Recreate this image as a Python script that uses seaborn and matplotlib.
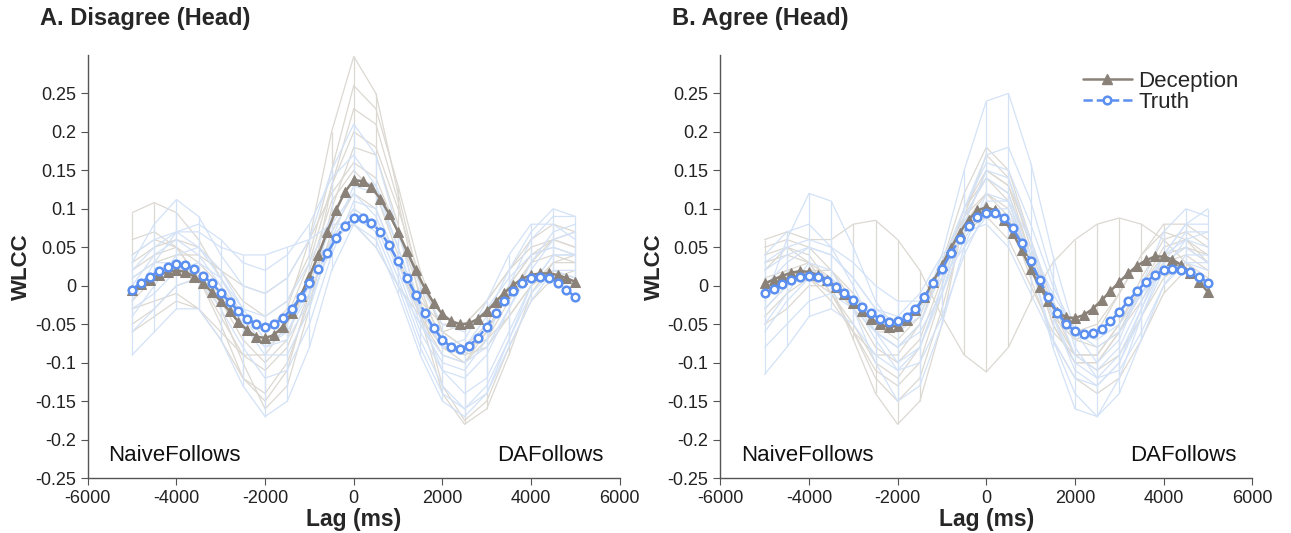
import numpy as np
import pandas as pd
import matplotlib
matplotlib.use("Agg")
import matplotlib.pyplot as plt
from matplotlib.lines import Line2D
import seaborn as sns

sns.set_style("ticks")
plt.rcParams['font.family'] = ['Liberation Sans', 'DejaVu Sans']
plt.rcParams['axes.unicode_minus'] = False

# lag grids (ms)
lags = np.arange(-5000, 5001, 200)      # group means
lags_sub = np.arange(-5000, 5001, 500)  # individual dyads

# ---- A. Disagree (Head): group means ----
dis_dec_mean = [-0.005, 0.002, 0.008, 0.014, 0.018, 0.020, 0.018, 0.012, 0.003, -0.008,
                -0.020, -0.033, -0.047, -0.058, -0.066, -0.068, -0.064, -0.053, -0.036, -0.013,
                0.012, 0.040, 0.070, 0.098, 0.122, 0.137, 0.136, 0.128, 0.113, 0.093,
                0.070, 0.045, 0.020, -0.003, -0.022, -0.037, -0.046, -0.050, -0.049, -0.043,
                -0.033, -0.021, -0.009, 0.001, 0.009, 0.014, 0.016, 0.016, 0.014, 0.010, 0.005]
dis_tru_mean = [-0.005, 0.004, 0.012, 0.019, 0.025, 0.028, 0.027, 0.022, 0.013, 0.003,
                -0.009, -0.021, -0.033, -0.043, -0.050, -0.053, -0.050, -0.042, -0.030, -0.015,
                0.003, 0.022, 0.042, 0.062, 0.078, 0.088, 0.088, 0.082, 0.070, 0.053,
                0.032, 0.010, -0.012, -0.035, -0.055, -0.070, -0.080, -0.082, -0.078, -0.068,
                -0.053, -0.036, -0.020, -0.007, 0.003, 0.010, 0.012, 0.010, 0.004, -0.005, -0.015]

# ---- B. Agree (Head): group means ----
agr_dec_mean = [0.003, 0.008, 0.013, 0.017, 0.019, 0.018, 0.014, 0.008, -0.001, -0.011,
                -0.022, -0.033, -0.043, -0.050, -0.054, -0.052, -0.045, -0.032, -0.015, 0.005,
                0.027, 0.049, 0.069, 0.086, 0.098, 0.102, 0.098, 0.086, 0.068, 0.046,
                0.022, -0.001, -0.020, -0.034, -0.041, -0.042, -0.038, -0.030, -0.019, -0.007,
                0.005, 0.016, 0.026, 0.033, 0.038, 0.038, 0.034, 0.027, 0.017, 0.005, -0.008]
agr_tru_mean = [-0.010, -0.004, 0.002, 0.008, 0.012, 0.013, 0.011, 0.006, -0.001, -0.009,
                -0.018, -0.027, -0.036, -0.043, -0.047, -0.046, -0.041, -0.030, -0.015, 0.003,
                0.022, 0.042, 0.061, 0.077, 0.089, 0.095, 0.095, 0.088, 0.075, 0.055,
                0.032, 0.008, -0.015, -0.035, -0.050, -0.059, -0.063, -0.062, -0.056, -0.046,
                -0.034, -0.020, -0.007, 0.005, 0.014, 0.020, 0.022, 0.021, 0.018, 0.012, 0.004]

# ---- individual dyads (values at lags_sub) ----
dis_dec_subj = [
    [0.095, 0.108, 0.095, 0.060, 0.010, -0.040, -0.060, -0.030, 0.060, 0.200, 0.298, 0.250, 0.120, 0.000, -0.080, -0.100, -0.060, 0.000, 0.040, 0.050, 0.040],
    [0.040, 0.060, 0.050, 0.010, -0.050, -0.120, -0.150, -0.110, -0.010, 0.130, 0.230, 0.210, 0.110, -0.020, -0.130, -0.175, -0.150, -0.080, -0.020, 0.010, 0.020],
    [-0.020, 0.010, 0.030, 0.020, -0.030, -0.100, -0.160, -0.130, -0.030, 0.100, 0.180, 0.170, 0.080, -0.040, -0.140, -0.180, -0.160, -0.090, -0.010, 0.030, 0.030],
    [0.020, 0.040, 0.050, 0.030, 0.000, -0.040, -0.060, -0.040, 0.030, 0.130, 0.200, 0.180, 0.100, 0.010, -0.060, -0.080, -0.050, 0.000, 0.040, 0.060, 0.050],
    [-0.050, -0.030, 0.000, 0.010, -0.020, -0.070, -0.100, -0.070, 0.020, 0.110, 0.150, 0.120, 0.040, -0.040, -0.090, -0.100, -0.070, -0.020, 0.030, 0.060, 0.070],
    [0.060, 0.070, 0.050, 0.010, -0.040, -0.090, -0.110, -0.080, -0.010, 0.060, 0.100, 0.080, 0.030, -0.020, -0.050, -0.050, -0.020, 0.020, 0.050, 0.060, 0.050],
    [-0.030, -0.020, -0.010, -0.030, -0.070, -0.120, -0.140, -0.100, -0.020, 0.070, 0.120, 0.100, 0.030, -0.040, -0.080, -0.090, -0.060, -0.010, 0.030, 0.040, 0.030],
    [0.010, 0.030, 0.040, 0.040, 0.020, 0.000, -0.010, 0.010, 0.060, 0.120, 0.160, 0.140, 0.070, -0.010, -0.070, -0.090, -0.080, -0.040, 0.000, 0.030, 0.040],
    [-0.060, -0.040, -0.020, -0.030, -0.060, -0.090, -0.090, -0.050, 0.010, 0.060, 0.080, 0.050, 0.000, -0.040, -0.060, -0.050, -0.020, 0.020, 0.060, 0.080, 0.070],
    [0.030, 0.050, 0.060, 0.050, 0.020, -0.020, -0.040, -0.020, 0.040, 0.150, 0.260, 0.230, 0.130, 0.020, -0.060, -0.080, -0.070, -0.040, 0.000, 0.020, 0.010],
]
dis_tru_subj = [
    [0.030, 0.080, 0.112, 0.090, 0.040, 0.000, -0.010, 0.010, 0.060, 0.150, 0.210, 0.170, 0.070, -0.030, -0.080, -0.070, -0.020, 0.040, 0.080, 0.080, 0.060],
    [-0.020, 0.030, 0.070, 0.080, 0.060, 0.030, 0.020, 0.040, 0.080, 0.140, 0.170, 0.130, 0.050, -0.040, -0.110, -0.140, -0.120, -0.060, 0.000, 0.040, 0.040],
    [-0.090, -0.060, -0.030, -0.030, -0.070, -0.130, -0.170, -0.150, -0.080, 0.020, 0.080, 0.060, -0.010, -0.090, -0.150, -0.170, -0.140, -0.070, 0.000, 0.040, 0.040],
    [0.000, 0.040, 0.060, 0.040, 0.000, -0.050, -0.080, -0.060, 0.000, 0.080, 0.120, 0.090, 0.020, -0.060, -0.110, -0.120, -0.090, -0.030, 0.030, 0.070, 0.080],
    [0.020, 0.050, 0.070, 0.070, 0.050, 0.040, 0.040, 0.050, 0.060, 0.080, 0.080, 0.050, 0.000, -0.050, -0.090, -0.100, -0.080, -0.030, 0.020, 0.060, 0.070],
    [-0.040, 0.000, 0.040, 0.050, 0.020, -0.030, -0.070, -0.060, -0.010, 0.060, 0.100, 0.080, 0.010, -0.070, -0.130, -0.160, -0.140, -0.080, -0.020, 0.020, 0.020],
    [0.010, 0.030, 0.030, 0.010, -0.030, -0.080, -0.120, -0.110, -0.050, 0.040, 0.110, 0.100, 0.030, -0.050, -0.100, -0.110, -0.070, 0.000, 0.060, 0.090, 0.090],
    [-0.060, -0.030, 0.000, 0.010, -0.010, -0.050, -0.090, -0.090, -0.030, 0.060, 0.130, 0.120, 0.050, -0.030, -0.080, -0.080, -0.040, 0.020, 0.070, 0.100, 0.090],
    [0.040, 0.060, 0.070, 0.050, 0.010, -0.030, -0.040, -0.020, 0.030, 0.090, 0.140, 0.130, 0.070, 0.000, -0.050, -0.060, -0.030, 0.010, 0.040, 0.050, 0.040],
    [-0.030, -0.010, 0.020, 0.030, 0.010, -0.040, -0.080, -0.070, -0.020, 0.050, 0.090, 0.070, 0.000, -0.080, -0.140, -0.160, -0.130, -0.070, -0.010, 0.020, 0.010],
]
agr_dec_subj = [
    [0.060, 0.070, 0.060, 0.060, 0.080, 0.085, 0.060, 0.020, -0.040, -0.090, -0.112, -0.080, -0.020, 0.030, 0.060, 0.080, 0.088, 0.080, 0.060, 0.030, 0.000],
    [0.020, 0.050, 0.040, 0.000, -0.070, -0.140, -0.180, -0.150, -0.050, 0.090, 0.170, 0.140, 0.050, -0.040, -0.090, -0.090, -0.050, 0.010, 0.060, 0.070, 0.050],
    [-0.040, -0.010, 0.010, -0.010, -0.060, -0.120, -0.150, -0.120, -0.030, 0.080, 0.150, 0.130, 0.040, -0.050, -0.100, -0.100, -0.060, 0.000, 0.050, 0.060, 0.040],
    [0.050, 0.060, 0.050, 0.020, -0.020, -0.060, -0.080, -0.050, 0.030, 0.120, 0.180, 0.150, 0.060, -0.030, -0.090, -0.110, -0.090, -0.040, 0.010, 0.030, 0.010],
    [0.000, 0.020, 0.030, 0.010, -0.030, -0.080, -0.100, -0.070, 0.010, 0.100, 0.140, 0.110, 0.030, -0.040, -0.070, -0.060, -0.010, 0.040, 0.080, 0.080, 0.060],
    [-0.030, 0.000, 0.020, 0.020, -0.010, -0.050, -0.070, -0.040, 0.030, 0.090, 0.120, 0.090, 0.010, -0.070, -0.120, -0.140, -0.120, -0.070, -0.010, 0.020, 0.000],
    [0.030, 0.040, 0.030, -0.010, -0.060, -0.110, -0.130, -0.100, -0.010, 0.080, 0.120, 0.100, 0.030, -0.030, -0.060, -0.050, -0.010, 0.040, 0.070, 0.060, 0.030],
    [-0.050, -0.030, 0.000, 0.000, -0.030, -0.060, -0.060, -0.030, 0.030, 0.100, 0.150, 0.130, 0.060, -0.020, -0.070, -0.080, -0.060, -0.020, 0.030, 0.050, 0.040],
    [0.010, 0.020, 0.010, -0.020, -0.060, -0.090, -0.090, -0.050, 0.020, 0.070, 0.090, 0.060, 0.000, -0.060, -0.090, -0.090, -0.050, 0.000, 0.040, 0.050, 0.030],
    [0.040, 0.050, 0.030, -0.010, -0.050, -0.100, -0.120, -0.080, 0.000, 0.090, 0.140, 0.120, 0.040, -0.050, -0.100, -0.100, -0.060, -0.010, 0.030, 0.040, 0.020],
]
agr_tru_subj = [
    [-0.020, 0.060, 0.120, 0.110, 0.050, -0.020, -0.060, -0.040, 0.040, 0.150, 0.240, 0.250, 0.160, 0.040, -0.060, -0.100, -0.070, 0.000, 0.070, 0.100, 0.090],
    [-0.115, -0.080, -0.040, -0.030, -0.050, -0.090, -0.110, -0.080, 0.000, 0.090, 0.140, 0.120, 0.030, -0.080, -0.160, -0.170, -0.120, -0.040, 0.030, 0.070, 0.070],
    [0.040, 0.070, 0.080, 0.050, 0.000, -0.060, -0.100, -0.080, -0.010, 0.080, 0.150, 0.140, 0.060, -0.040, -0.110, -0.130, -0.100, -0.030, 0.040, 0.080, 0.080],
    [-0.050, -0.010, 0.030, 0.020, -0.030, -0.100, -0.150, -0.130, -0.050, 0.050, 0.120, 0.110, 0.030, -0.070, -0.140, -0.170, -0.140, -0.070, 0.000, 0.040, 0.040],
    [0.020, 0.040, 0.050, 0.040, 0.010, -0.030, -0.050, -0.030, 0.030, 0.100, 0.160, 0.150, 0.080, 0.000, -0.060, -0.080, -0.060, -0.010, 0.040, 0.060, 0.050],
    [-0.080, -0.050, -0.020, -0.010, -0.030, -0.060, -0.080, -0.050, 0.020, 0.100, 0.170, 0.180, 0.110, 0.010, -0.080, -0.120, -0.110, -0.060, 0.000, 0.030, 0.030],
    [0.000, 0.030, 0.050, 0.040, 0.010, -0.030, -0.040, -0.010, 0.040, 0.070, 0.080, 0.050, -0.010, -0.070, -0.120, -0.130, -0.100, -0.040, 0.020, 0.060, 0.070],
    [-0.030, 0.000, 0.020, 0.010, -0.020, -0.060, -0.080, -0.060, -0.010, 0.060, 0.110, 0.110, 0.060, -0.020, -0.090, -0.110, -0.080, -0.020, 0.040, 0.080, 0.100],
    [0.030, 0.050, 0.060, 0.050, 0.030, 0.000, -0.020, -0.020, 0.010, 0.050, 0.090, 0.090, 0.050, -0.010, -0.060, -0.070, -0.050, -0.010, 0.020, 0.030, 0.020],
    [-0.060, -0.020, 0.010, 0.010, -0.020, -0.070, -0.110, -0.100, -0.040, 0.040, 0.100, 0.100, 0.040, -0.040, -0.100, -0.120, -0.090, -0.030, 0.030, 0.050, 0.030],
]

panel_titles = ['A. Disagree (Head)', 'B. Agree (Head)']
dec_color = '#8a8279'
tru_color = '#5b8ff0'
dec_light = '#dcd8d2'
tru_light = '#d3e2f7'


def subj_frame(rows):
    recs = []
    for i, row in enumerate(rows):
        for lag, v in zip(lags_sub, row):
            recs.append({'Lag': lag, 'WLCC': v, 'Subject': i})
    return pd.DataFrame(recs)


def draw_panel(ax, dec_subj, tru_subj, dec_mean, tru_mean):
    for rows, col in [(dec_subj, dec_light), (tru_subj, tru_light)]:
        arr = np.array(rows)
        ax.vlines(lags_sub, arr.min(axis=0), arr.max(axis=0), color=col, lw=0.9, zorder=1)
        sns.lineplot(data=subj_frame(rows), x='Lag', y='WLCC', units='Subject', estimator=None,
                     color=col, lw=0.9, ax=ax, zorder=1, legend=False)
    mdf = pd.DataFrame({'Lag': lags, 'Deception': dec_mean, 'Truth': tru_mean})
    sns.lineplot(data=mdf, x='Lag', y='Deception', color=dec_color, lw=1.8, marker='^',
                 markersize=6.5, markeredgecolor=dec_color, ax=ax, zorder=3)
    sns.lineplot(data=mdf, x='Lag', y='Truth', color=tru_color, lw=1.8, ls='--', marker='o',
                 markersize=5.5, markerfacecolor='white', markeredgecolor=tru_color,
                 markeredgewidth=1.8, ax=ax, zorder=4)

    ax.set_xlim(-6000, 6000)
    ax.set_ylim(-0.25, 0.30)
    ax.set_xticks(np.arange(-6000, 6001, 2000))
    yt = np.round(np.arange(-0.25, 0.2501, 0.05), 2) + 0.0
    ax.set_yticks(yt)
    ax.set_yticklabels([f'{v:g}' if abs(v) > 1e-9 else '0' for v in yt])
    ax.set_xlabel('Lag (ms)', fontsize=16.5, fontweight='bold', labelpad=1)
    ax.set_ylabel('WLCC', fontsize=16, fontweight='bold', labelpad=2)
    ax.tick_params(labelsize=13, direction='out', length=5, color='#555555', labelcolor='#222222')
    for s in ['left', 'bottom']:
        ax.spines[s].set_color('#555555')
        ax.spines[s].set_linewidth(1.0)
    sns.despine(ax=ax)
    ax.text(-5530, -0.22, 'NaiveFollows', fontsize=16, va='center', ha='left', color='#111111')
    ax.text(5640, -0.22, 'DAFollows', fontsize=16, va='center', ha='right', color='#111111')


fig = plt.figure(figsize=(12.91, 5.33), dpi=100)
ax1 = fig.add_axes([0.068, 0.103, 0.412, 0.794])
ax2 = fig.add_axes([0.558, 0.103, 0.412, 0.794])

draw_panel(ax1, dis_dec_subj, dis_tru_subj, dis_dec_mean, dis_tru_mean)
draw_panel(ax2, agr_dec_subj, agr_tru_subj, agr_dec_mean, agr_tru_mean)

fig.text(40 / 1291, 1 - 19 / 533, panel_titles[0], fontsize=17, fontweight='bold', va='center')
fig.text(672 / 1291, 1 - 19 / 533, panel_titles[1], fontsize=17, fontweight='bold', va='center')

handles = [Line2D([], [], color=dec_color, lw=1.8, marker='^', markersize=6.5),
           Line2D([], [], color=tru_color, lw=1.8, ls='--', marker='o', markersize=5.5,
                  markerfacecolor='white', markeredgewidth=1.8)]
ax2.legend(handles, ['Deception', 'Truth'], loc='upper right', bbox_to_anchor=(1.0, 0.993),
           frameon=False, fontsize=16, handlelength=2.2, handletextpad=0.3, labelspacing=0.0,
           borderaxespad=0.2)

fig.savefig('out.png', dpi=100)
